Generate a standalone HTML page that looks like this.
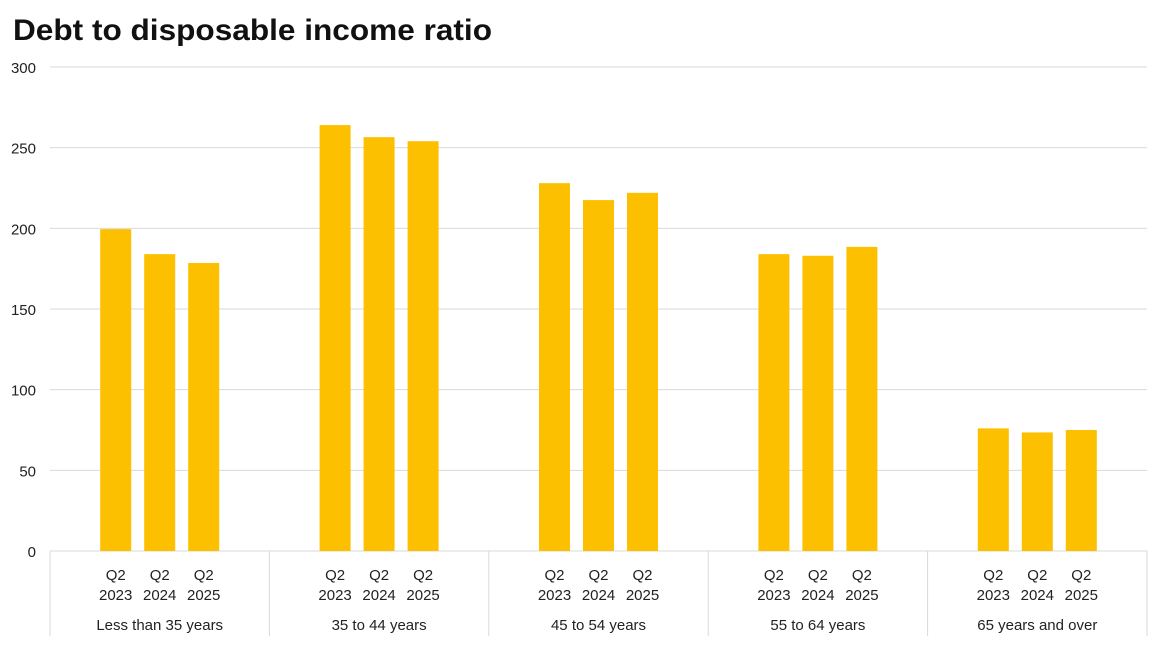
<!DOCTYPE html>
<html><head><meta charset="utf-8"><style>
body{margin:0;background:#fff;width:1153px;height:640px;overflow:hidden;font-family:"Liberation Sans",sans-serif}
</style></head><body>
<svg width="1153" height="640" xmlns="http://www.w3.org/2000/svg">
<text x="13" y="40" font-size="30" font-weight="bold" fill="#111" textLength="479" lengthAdjust="spacingAndGlyphs">Debt to disposable income ratio</text>
<g id="grid"></g><g id="bars"></g><g id="xaxis"></g>
</svg>
<script>
const groups=["Less than 35 years","35 to 44 years","45 to 54 years","55 to 64 years","65 years and over"];
const periods=["Q2 2023","Q2 2024","Q2 2025"];
const v2023=[199.5,264,228,184,76];
const v2024=[184,256.5,217.5,183,73.5];
const v2025=[178.5,254,222,188.5,75];
const yTicks=[0,50,100,150,200,250,300];
const series=[v2023,v2024,v2025];
const NS="http://www.w3.org/2000/svg";
const x0=50,x1=1147,y0=551,y1=67,ymax=300;
const gw=(x1-x0)/groups.length;
const y=v=>y0-(v/ymax)*(y0-y1);
function mk(tag,attrs,parent,text){const e=document.createElementNS(NS,tag);for(const k in attrs)e.setAttribute(k,attrs[k]);if(text!==undefined)e.textContent=text;parent.appendChild(e);return e;}
const grid=document.getElementById('grid'),bars=document.getElementById('bars'),xa=document.getElementById('xaxis');
yTicks.forEach(t=>{
 const l=mk('line',{x1:x0,x2:x1,y1:y(t),y2:y(t),stroke:'#d9d9d9','stroke-width':1},grid);
 
 
 const tx=mk('text',{x:36,y:y(t)+6,'text-anchor':'end','font-size':15,fill:'#222'},grid,t);
 
 
});
for(let i=0;i<=groups.length;i++){
 const xx=x0+i*gw;
 const l=mk('line',{x1:xx,x2:xx,y1:y0,y2:636,stroke:'#d9d9d9','stroke-width':1},xa);
 
 
}
groups.forEach((g,gi)=>{
 const cx=x0+gw*(gi+0.5);
 series.forEach((s,si)=>{
  const bx=cx+(si-1)*44;
  const r=mk('rect',{x:bx-15.5,y:y(s[gi]),width:31,height:y0-y(s[gi]),fill:'#fcc000'},bars);
  
  
  const p=periods[si].split(' ');
  const t1=mk('text',{x:bx,y:580,'text-anchor':'middle','font-size':15,fill:'#222'},xa,p[0]);
  
  
  const t2=mk('text',{x:bx,y:600,'text-anchor':'middle','font-size':15,fill:'#222'},xa,p[1]);
  
  
 });
 const gt=mk('text',{x:cx,y:630,'text-anchor':'middle','font-size':15,fill:'#222'},xa,g);
 
 
});
</script>
</body></html>
